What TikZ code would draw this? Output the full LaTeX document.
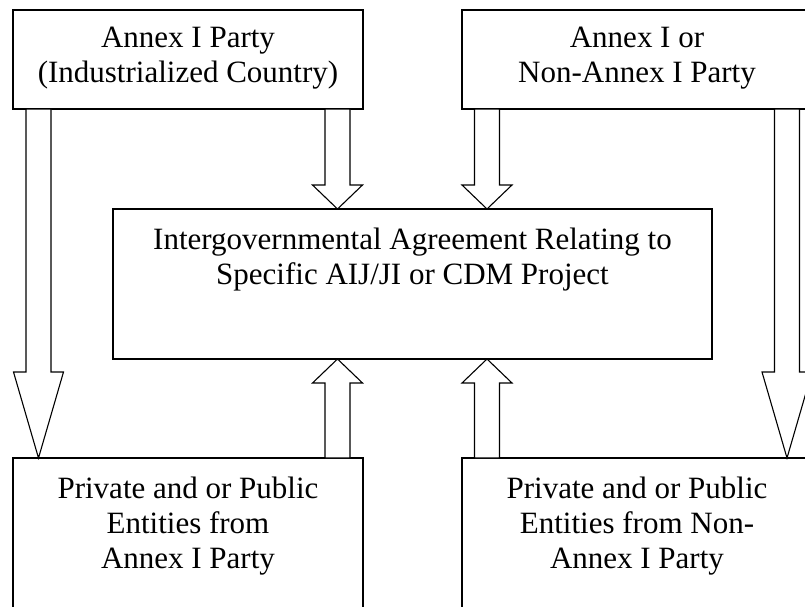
\documentclass[tikz,border=0pt]{standalone}
\usepackage{fontspec}
\setmainfont{Liberation Serif}
\usepackage{tikz}
\usetikzlibrary{calc,positioning}
\newcommand{\fatarrow}[3]{
	\begin{scope}
	\coordinate (h) at ($(#2)!#3!(#1)$);
	\draw[fill=white] ($(#1)!12.5pt!90:(#2)$) -- ($(h)!12.5pt!90:(#2)$) -- ($(h)!25pt!90:(#2)$) -- (#2) -- ($(h)!25pt!-90:(#2)$) -- ($(h)!12.5pt!-90:(#2)$) -- ($(#1)!12.5pt!-90:(#2)$) -- cycle;
	\end{scope}
}
\tikzset{
	box/.style={draw, minimum width=350pt, minimum height=99pt, inner sep=0pt, outer sep=0pt},
	lbl/.style={align=center, inner sep=0pt, font=\fontsize{31}{35}\selectfont}
}

\begin{document}
\begin{tikzpicture}[x=1pt,y=-1pt,line width=1.1pt]
	\useasboundingbox (0,0) rectangle (805,606);
	\clip (0,0) rectangle (805,606);

	\node[box] (ti) at (188,59.5) {};
	\node[box] (tr) at (637,59.5) {};
	\node[box, minimum width=599pt, minimum height=150pt] (mid) at (412.5,284) {};
	\node[box, minimum height=160pt] (bl) at (188,538) {};
	\node[box, minimum height=160pt] (br) at (637,538) {};

	\node[lbl, below=16.5pt of ti.north] (tit) {Annex I Party\\(Industrialized Country)};
	\node[lbl, below=16.5pt of tr.north] (trt) {Annex I or\\Non-Annex I Party};
	\node[lbl, below=18pt of mid.north] (midt) {Intergovernmental Agreement Relating to\\Specific AIJ/JI or CDM Project};
	\node[lbl, below=18.5pt of bl.north] (blt) {Private and or Public\\Entities from\\Annex I Party};
	\node[lbl, below=18.5pt of br.north] (brt) {Private and or Public\\Entities from Non-\\Annex I Party};

	\coordinate (a) at ($(ti.south west)+(25.5,0)$);
	\coordinate (b) at (a |- bl.north);
	\coordinate (c) at ($(ti.south east)+(-25.5,0)$);
	\coordinate (d) at (c |- mid.north);
	\coordinate (e) at ($(tr.south west)+(25,0)$);
	\coordinate (f) at (e |- mid.north);
	\coordinate (g) at ($(tr.south east)+(-25,0)$);
	\coordinate (k) at (g |- br.north);
	\coordinate (m) at (c |- bl.north);
	\coordinate (n) at (c |- mid.south);
	\coordinate (p) at (e |- br.north);
	\coordinate (q) at (e |- mid.south);

	\fatarrow{a}{b}{86pt}
	\fatarrow{c}{d}{24pt}
	\fatarrow{e}{f}{24pt}
	\fatarrow{g}{k}{86pt}
	\fatarrow{m}{n}{24pt}
	\fatarrow{p}{q}{24pt}
\end{tikzpicture}
\end{document}
